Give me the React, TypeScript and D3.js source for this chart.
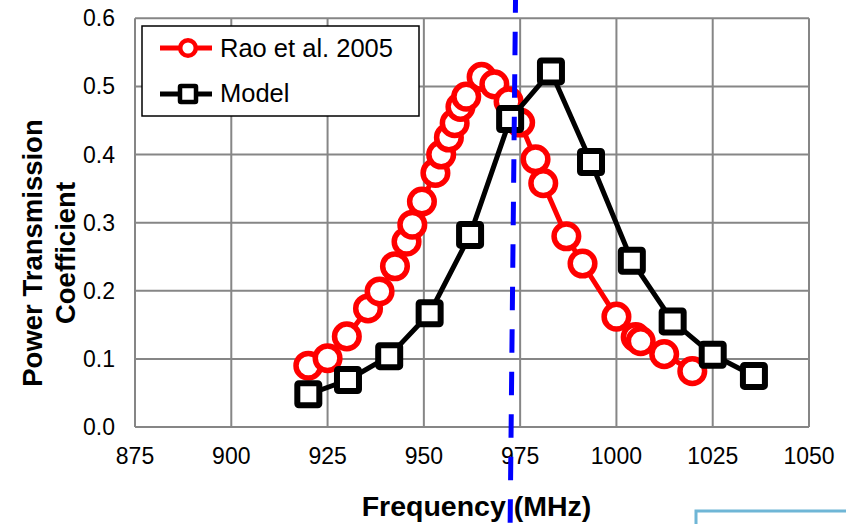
import React from 'react';
import * as d3 from 'd3';

// Rao et al. 2005 measurements (frequency MHz, power transmission coefficient)
const raoFreq = [920, 925, 930, 935.5, 938.5, 942.5, 945.5, 947, 949.5, 953, 954.5, 956.5, 958, 959.5, 961, 965, 968.3, 972, 975, 979, 981, 987, 991.2, 1000, 1005, 1006.3, 1012.4, 1019.7];
const raoVals = [0.09, 0.101, 0.133, 0.174, 0.199, 0.236, 0.272, 0.297, 0.331, 0.373, 0.4, 0.425, 0.446, 0.47, 0.485, 0.514, 0.503, 0.478, 0.447, 0.393, 0.358, 0.28, 0.24, 0.162, 0.132, 0.126, 0.107, 0.082];

// model curve
const modelFreq = [920, 930.3, 941, 951.5, 962, 972.4, 983, 993.4, 1004, 1014.6, 1025, 1035.7];
const modelVals = [0.048, 0.069, 0.104, 0.167, 0.282, 0.452, 0.522, 0.389, 0.244, 0.155, 0.106, 0.075];

const xTicks = [875, 900, 925, 950, 975, 1000, 1025, 1050];
const yTicks = [0, 0.1, 0.2, 0.3, 0.4, 0.5, 0.6];

// dashed marker line (slightly tilted in the original)
const markerTop = 973.8;
const markerBottom = 972.4;

const seriesNames = ['Rao et al. 2005', 'Model'];

const font = '"Liberation Sans", Arial, sans-serif';
const gridColor = '#868686';

const App = () => {
  const width = 846;
  const height = 524;
  const margin = { top: 18.3, right: 37, bottom: 97, left: 135 };

  const x = d3.scaleLinear()
    .domain([875, 1050])
    .range([margin.left, width - margin.right]);

  const y = d3.scaleLinear()
    .domain([0, 0.6])
    .range([height - margin.bottom, margin.top]);

  const rao = raoFreq.map((f, i) => [f, raoVals[i]]);
  const model = modelFreq.map((f, i) => [f, modelVals[i]]);

  const line = d3.line().x(d => x(d[0])).y(d => y(d[1]));

  const sq = 22;

  return (
    <svg width={width} height={height} style={{ position: 'absolute', left: 0, top: 0 }}>
      <rect width={width} height={height} fill="#fff" />

      {/* grid */}
      {xTicks.map(t => (
        <line key={'gx' + t} x1={x(t)} x2={x(t)} y1={y(0.6)} y2={y(0)} stroke={gridColor} strokeWidth={2} />
      ))}
      {yTicks.map(t => (
        <line key={'gy' + t} x1={x(875)} x2={x(1050)} y1={y(t)} y2={y(t)} stroke={gridColor} strokeWidth={2} />
      ))}

      {/* tick labels */}
      {yTicks.map(t => (
        <text key={'ty' + t} x={115} y={y(t) + 8} textAnchor="end" fontFamily={font} fontSize={23} fill="#000">
          {t.toFixed(1)}
        </text>
      ))}
      {xTicks.map(t => (
        <text key={'tx' + t} x={x(t)} y={463.5} textAnchor="middle" fontFamily={font} fontSize={23} fill="#000">
          {t}
        </text>
      ))}

      {/* axis titles */}
      <text x={476.5} y={516} textAnchor="middle" fontFamily={font} fontWeight="bold" fontSize={28.5} fill="#000">
        Frequency (MHz)
      </text>
      <text transform="translate(42,253) rotate(-90)" textAnchor="middle" fontFamily={font} fontWeight="bold" fontSize={27.5} fill="#000">
        Power Transmission
      </text>
      <text transform="translate(75,253) rotate(-90)" textAnchor="middle" fontFamily={font} fontWeight="bold" fontSize={27.5} fill="#000">
        Coefficient
      </text>

      {/* Rao et al. series */}
      <path d={line(rao)} fill="none" stroke="#ff0000" strokeWidth={5} strokeLinejoin="round" />
      {rao.map((d, i) => (
        <circle key={'r' + i} cx={x(d[0])} cy={y(d[1])} r={12.3} fill="#fff" stroke="#ff0000" strokeWidth={5.5} />
      ))}

      {/* Model series */}
      <path d={line(model)} fill="none" stroke="#000" strokeWidth={5} strokeLinejoin="round" />
      {model.map((d, i) => (
        <rect key={'m' + i} x={x(d[0]) - sq / 2} y={y(d[1]) - sq / 2} width={sq} height={sq} rx={1.5}
          fill="#fff" stroke="#000" strokeWidth={6} />
      ))}

      {/* legend */}
      <rect x={142} y={26} width={277} height={90} fill="#fff" stroke="#000" strokeWidth={1.5} />
      <line x1={160} x2={212} y1={48} y2={48} stroke="#ff0000" strokeWidth={5} />
      <circle cx={188} cy={48} r={7.8} fill="#fff" stroke="#ff0000" strokeWidth={4.5} />
      <text x={220} y={56.7} fontFamily={font} fontSize={25.5} fill="#000">{seriesNames[0]}</text>
      <line x1={160} x2={212} y1={94} y2={94} stroke="#000" strokeWidth={5} />
      <rect x={188 - 8} y={94 - 8} width={16} height={16} rx={1} fill="#fff" stroke="#000" strokeWidth={4.5} />
      <text x={220} y={101.7} fontFamily={font} fontSize={25.5} fill="#000">{seriesNames[1]}</text>

      {/* dashed marker line */}
      <line x1={x(markerTop)} y1={0} x2={x(markerBottom)} y2={height} stroke="#0000ff" strokeWidth={5}
        strokeDasharray="23.5 19" strokeDashoffset={10.8} />

      {/* partial box at bottom right */}
      <rect x={696} y={511} width={170} height={40} fill="none" stroke="#6fb6d6" strokeWidth={3} />
    </svg>
  );
};

export default App;
